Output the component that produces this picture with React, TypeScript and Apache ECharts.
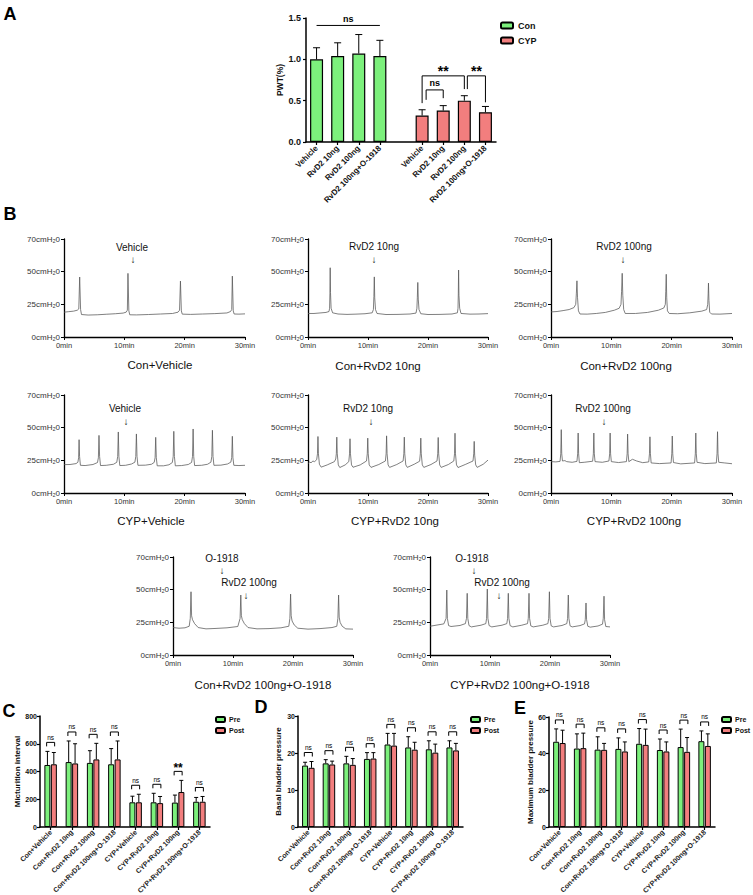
import React, { useEffect, useRef } from 'react';
import * as echarts from 'echarts';

const FONT = '"Liberation Sans", Arial, Helvetica, sans-serif';
const GREEN = '#7CF07C';
const RED = '#F27E7E';

// ---------- Panel A : PWT(%)
const aCategories = ['Vehicle', 'RvD2 10ng', 'RvD2 100ng', 'RvD2 100ng+O-1918', '', 'Vehicle', 'RvD2 10ng', 'RvD2 100ng', 'RvD2 100ng+O-1918'];
const aConMean = [1.0, 1.04, 1.07, 1.04];
const aConErr = [1.14, 1.2, 1.3, 1.23];
const aCypMean = [0.32, 0.38, 0.5, 0.36];
const aCypErr = [0.39, 0.44, 0.56, 0.43];
const aSigFrom = [0, 5, 5, 7];
const aSigTo = [3, 7, 6, 8];
const aSigTop = [1.41, 0.8, 0.63, 0.8];
const aSigLeftEnd = [1.41, 0.47, 0.51, 0.64];
const aSigRightEnd = [1.41, 0.64, 0.53, 0.48];
const aSigText = ['ns', '**', 'ns', '**'];

// ---------- Panels C / D / E
const groupCategories = ['Con+Vehicle', 'Con+RvD2 10ng', 'Con+RvD2 100ng', 'Con+RvD2 100ng+O-1918', 'CYP+Vehicle', 'CYP+RvD2 10ng', 'CYP+RvD2 100ng', 'CYP+RvD2 100ng+O-1918'];
const cPre = [447, 468, 462, 452, 178, 178, 176, 182];
const cPreErr = [545, 620, 550, 565, 222, 243, 230, 213];
const cPost = [452, 458, 487, 487, 178, 172, 252, 182];
const cPostErr = [537, 600, 603, 620, 236, 220, 336, 220];
const cSig = ['ns', 'ns', 'ns', 'ns', 'ns', 'ns', '**', 'ns'];
const dPre = [16.6, 17.2, 17.2, 18.4, 22.3, 21.5, 21.0, 21.5];
const dPreErr = [17.5, 18.2, 19.1, 20.1, 25.3, 24.4, 23.3, 23.3];
const dPost = [16.0, 16.9, 16.8, 18.5, 22.0, 20.9, 20.1, 20.7];
const dPostErr = [17.7, 17.8, 18.5, 20.1, 25.3, 22.9, 22.4, 22.6];
const dSig = ['ns', 'ns', 'ns', 'ns', 'ns', 'ns', 'ns', 'ns'];
const ePre = [46.5, 42.8, 42.2, 42.6, 45.4, 42.0, 43.6, 46.8];
const ePreErr = [53.5, 50.8, 49.2, 48.6, 53.7, 48.0, 53.4, 52.4];
const ePost = [45.8, 43.0, 42.1, 41.2, 44.8, 41.2, 41.0, 44.2];
const ePostErr = [52.8, 51.2, 45.6, 46.4, 53.4, 46.4, 48.8, 50.8];
const eSig = ['ns', 'ns', 'ns', 'ns', 'ns', 'ns', 'ns', 'ns'];

// ---------- Panel B : cystometry traces  [min, pressure on the drawn scale]
const traceTitles = ['Con+Vehicle', 'Con+RvD2 10ng', 'Con+RvD2 100ng', 'CYP+Vehicle', 'CYP+RvD2 10ng', 'CYP+RvD2 100ng', 'Con+RvD2 100ng+O-1918', 'CYP+RvD2 100ng+O-1918'];
const traceYTickLabels = ['0cmH₂0', '25cmH₂0', '50cmH₂0', '70cmH₂0'];
const traceXTickLabels = ['0min', '10min', '20min', '30min'];

const trace1 = [[0,19],[0.8,19.4],[1.6,19.8],[2.2,20.5],[2.45,21.5],[2.6,45.9],[2.75,21],[2.9,17.2],[4,16.8],[5.5,17],[7,17.4],[8.5,17.8],[9.8,18.3],[10.3,19],[10.5,20.5],[10.6,48.7],[10.75,20],[10.9,17],[12,16.9],[14,17.2],[16,17.6],[18,18],[18.9,19],[19.15,20.5],[19.3,42.8],[19.45,20],[19.6,17.5],[21,17.3],[23,17.6],[25,17.9],[27,18.4],[27.6,19.5],[27.8,21],[27.9,46.6],[28.05,20],[28.2,17.6],[29,17.5],[30,17.7]];
const trace2 = [[0,18],[1,18],[2,18.4],[3,18.8],[3.5,19.5],[3.6,22],[3.65,33],[3.7,53],[3.75,34],[3.85,22],[4.1,18.5],[5,17.6],[6.5,17.3],[8,17.5],[9.5,17.8],[10.7,18.5],[10.9,21],[10.98,31],[11.05,46],[11.12,30],[11.25,21],[11.5,18],[13,17.2],[15,17.3],[17,17.6],[18,18.3],[18.15,22],[18.22,30],[18.3,41.75],[18.38,29],[18.5,21],[18.8,17.8],[20,17.2],[22,17.3],[24,17.6],[24.9,18.5],[25,22],[25.05,33],[25.1,51.25],[25.16,32],[25.28,22],[25.5,18],[27,17.5],[28.5,17.6],[30,17.9]];
const trace3 = [[0,19.2],[1,19.5],[2,20.2],[3,21],[3.8,22.5],[4.1,25],[4.2,33],[4.3,43],[4.4,30],[4.55,20],[4.8,17.6],[6,17.5],[7.5,18],[9,18.8],[10.5,20.5],[11.3,22],[11.6,25],[11.7,35],[11.8,48.75],[11.9,32],[12.05,21],[12.3,18],[14,18],[16,18.8],[17.8,20.5],[18.7,22.2],[18.95,25],[19.02,35],[19.1,48],[19.18,30],[19.3,20],[19.6,18],[21,17.8],[23,18.5],[25,19.8],[25.8,21],[25.98,25],[26.05,33],[26.1,41.25],[26.18,28],[26.3,19],[26.6,17.6],[28,17.5],[30,18]];
const trace4 = [[0,21.7],[1,21.8],[2,22.5],[2.3,23.5],[2.42,27],[2.5,40.8],[2.58,28],[2.72,21.2],[3.5,21],[4.8,21.8],[5.55,23.3],[5.7,27],[5.8,44.1],[5.9,28],[6.05,21],[7,21.2],[8.2,22],[8.75,23.5],[8.9,28],[9,46.7],[9.1,28],[9.25,21],[10.2,21.2],[11.2,22.2],[11.75,23.6],[11.9,28],[12,45.2],[12.1,28],[12.25,21.2],[13.5,21.3],[14.5,22],[14.95,23.4],[15.1,27],[15.2,42.6],[15.3,27],[15.45,20.8],[16.5,20.8],[17.4,21.6],[17.95,23.3],[18.1,28],[18.2,47.2],[18.3,28],[18.45,20.8],[19.5,21],[20.6,21.8],[21.15,23.4],[21.3,28],[21.4,49],[21.5,28],[21.65,21],[22.8,21.2],[23.8,22],[24.35,23.6],[24.5,28],[24.6,48],[24.7,28],[24.85,21.2],[26,21.3],[27.1,22.2],[27.65,23.6],[27.8,27],[27.9,43.4],[28,27],[28.15,21.2],[29,21],[30,21.2]];
const trace5 = [[0,22.5],[0.3,23.8],[0.5,23],[0.8,24.5],[1.1,24],[1.45,25.5],[1.58,30],[1.66,43.25],[1.74,30],[1.9,22],[2.2,19.8],[3.2,21.5],[4.4,24],[4.62,26],[4.72,30],[4.8,42.75],[4.88,30],[5.05,21.5],[5.3,19.5],[6.2,21.5],[6.8,24],[6.92,30],[7,41.5],[7.08,30],[7.25,21.5],[7.5,19.7],[8.7,21.5],[9.75,24.5],[9.88,30],[9.96,42],[10.04,30],[10.2,21.5],[10.5,19.6],[11.8,21.8],[12.9,24.5],[13.02,30],[13.1,43.75],[13.18,30],[13.35,21.5],[13.6,19.6],[14.8,21.8],[15.85,24.5],[15.97,30],[16.05,42.75],[16.13,30],[16.3,21.5],[16.55,19.6],[17.7,22],[18.6,24.3],[18.72,30],[18.8,42],[18.88,30],[19.05,21.5],[19.3,19.6],[20.5,21.8],[21.5,24.5],[21.62,30],[21.7,42.5],[21.78,30],[21.95,21.5],[22.2,19.6],[23.4,21.8],[24.3,24.5],[24.42,30],[24.5,45.75],[24.58,30],[24.75,21.5],[25,19.5],[26.3,22],[27.5,24.5],[27.62,30],[27.7,39.5],[27.78,29],[27.95,21.5],[28.2,19.6],[29.2,22],[30,25.2]];
const trace6 = [[0,24],[0.8,23.8],[1.5,24.2],[1.62,30],[1.7,48.5],[1.78,30],[1.9,24.5],[2.3,24.8],[2.6,24],[3.5,23.5],[4.3,24.2],[4.42,30],[4.5,45.9],[4.58,30],[4.7,23.2],[5.5,23.5],[6.9,24.3],[7.02,30],[7.1,45.9],[7.18,30],[7.3,24],[8.5,23.5],[9.6,24.5],[9.72,30],[9.8,45.9],[9.88,30],[10,24],[11.2,23.3],[12.5,24],[12.62,30],[12.7,45.1],[12.78,30],[12.9,24],[13.5,25.8],[14.2,24.5],[15.2,23.2],[16.2,23.8],[16.32,30],[16.4,43],[16.48,30],[16.6,23],[18,22.5],[19.9,23],[20.02,30],[20.1,43.6],[20.18,30],[20.3,23.3],[21.5,22.3],[23.8,23],[23.92,30],[24,45.9],[24.08,30],[24.2,23.5],[25.5,22.5],[27.4,23],[27.52,30],[27.6,46.9],[27.68,30],[27.8,23.5],[28.8,23],[30,22.4]];
const trace7 = [[0,21],[1,20.5],[2,20.8],[2.7,22],[2.88,28],[3,48.4],[3.1,30],[3.25,27],[3.6,24],[4.2,21],[5.5,20],[7,20.3],[9,20.8],[10.8,21.8],[11.18,28],[11.3,45.9],[11.4,30],[11.55,27],[11.9,24],[12.5,21],[14,20],[16,20.2],[18,20.8],[19.3,22],[19.48,28],[19.6,46.6],[19.7,30],[19.85,26],[20.2,23],[20.8,20.5],[22.5,19.8],[24.5,20.2],[26.5,21],[27.3,22],[27.48,28],[27.6,45.9],[27.7,29],[27.85,25],[28.2,22],[28.8,20],[30,19.8]];
const trace8 = [[0,22],[1,22.8],[2.3,23.8],[2.68,28],[2.8,49.7],[2.9,28],[3.1,22.5],[3.5,21.8],[5,22.6],[5.9,24],[6.08,28],[6.2,47.2],[6.3,28],[6.5,22.5],[6.9,21.5],[8.5,22.8],[9.3,24],[9.43,28],[9.55,50.5],[9.65,28],[9.85,22.5],[10.3,21.5],[12,22.8],[12.8,24],[12.93,28],[13.05,47.2],[13.15,28],[13.35,22.5],[13.8,21.5],[15.3,22.8],[16.25,24],[16.38,28],[16.5,47.2],[16.6,28],[16.8,22.3],[17.2,21.5],[18.8,22.8],[19.65,24],[19.78,28],[19.9,48.4],[20,28],[20.2,22.3],[20.6,21.5],[22,22.6],[22.8,24],[22.93,28],[23.05,45.9],[23.15,28],[23.35,22.3],[23.7,21.5],[25,22.5],[25.75,23.8],[25.88,27],[26,39.8],[26.1,27],[26.3,22],[26.7,21.3],[28,22.2],[28.75,23.6],[28.88,28],[29,45],[29.1,27],[29.3,21.8],[30,21.5]];
const traces = [trace1, trace2, trace3, trace4, trace5, trace6, trace7, trace8];

// annotation texts above the traces
const traceNotes = [
  ['Vehicle'], ['RvD2 10ng'], ['RvD2 100ng'],
  ['Vehicle'], ['RvD2 10ng'], ['RvD2 100ng'],
  ['O-1918', 'RvD2 100ng'], ['O-1918', 'RvD2 100ng'],
];

function buildOption() {
  const black = '#000';
  const grids: any[] = [];
  const xAxes: any[] = [];
  const yAxes: any[] = [];
  const series: any[] = [];
  const graphics: any[] = [];

  const txt = (text: string, x: number, y: number, size: number, weight = 'normal', color = '#111') => ({
    type: 'text', x, y, silent: true,
    style: { text, fontSize: size, fontWeight: weight, fontFamily: FONT, fill: color, align: 'center', verticalAlign: 'middle', textAlign: 'center', textVerticalAlign: 'middle' },
  });

  const errSeries = (ai: number, data: number[][], offset: number, cap: number) => ({
    type: 'custom', xAxisIndex: ai, yAxisIndex: ai, z: 5, silent: true,
    data, encode: { x: 0, y: [1, 2] },
    renderItem: (_p: any, api: any) => {
      const x = api.value(0);
      const a = api.coord([x, api.value(1)]);
      const b = api.coord([x, api.value(2)]);
      const cx = a[0] + offset;
      return {
        type: 'group', children: [
          { type: 'line', shape: { x1: cx, y1: a[1], x2: cx, y2: b[1] }, style: { stroke: black, lineWidth: 1 } },
          { type: 'line', shape: { x1: cx - cap, y1: b[1], x2: cx + cap, y2: b[1] }, style: { stroke: black, lineWidth: 1 } },
        ],
      };
    },
  });

  const boldAxisBase = {
    axisLine: { show: true, lineStyle: { color: black, width: 1.5 } },
    axisTick: { show: true, length: 3, lineStyle: { color: black, width: 1.2 } },
    splitLine: { show: false },
  };

  // ---------------- Panel A
  grids.push({ left: 306, top: 18, width: 190, height: 124, outerBoundsMode: 'none' });
  xAxes.push({
    gridIndex: 0, type: 'category', data: aCategories, ...boldAxisBase,
    axisTick: { show: true, length: 3, alignWithLabel: true, interval: (i: number) => i !== 4, lineStyle: { color: black, width: 1.2 } },
    axisLabel: { interval: 0, rotate: 45, fontSize: 8, fontWeight: 'bold', fontFamily: FONT, color: '#111', margin: 5 },
  });
  yAxes.push({
    gridIndex: 0, type: 'value', min: 0, max: 1.5, interval: 0.5, ...boldAxisBase,
    axisLabel: { fontSize: 9, fontWeight: 'bold', fontFamily: FONT, color: '#111', margin: 5, formatter: (v: number) => v.toFixed(1) },
    name: 'PWT(%)', nameLocation: 'middle', nameGap: 19,
    nameTextStyle: { fontSize: 8.5, fontWeight: 'bold', fontFamily: FONT, color: '#111' },
  });
  const blanks = ['-', '-', '-', '-', '-'];
  series.push({
    name: 'Con', type: 'bar', xAxisIndex: 0, yAxisIndex: 0, barWidth: 13, barGap: '-100%',
    data: [...aConMean, ...blanks], itemStyle: { color: GREEN, borderColor: black, borderWidth: 1.2 },
  });
  series.push({
    name: 'CYP', type: 'bar', xAxisIndex: 0, yAxisIndex: 0, barWidth: 13, barGap: '-100%',
    data: [...blanks, ...aCypMean], itemStyle: { color: RED, borderColor: black, borderWidth: 1.2 },
  });
  series.push(errSeries(0, aConMean.map((m, i) => [i, m, aConErr[i]]), 0, 3.5));
  series.push(errSeries(0, aCypMean.map((m, i) => [i + 5, m, aCypErr[i]]), 0, 3.5));
  const aNudge = [0, 0, 4, 3];
  series.push({
    type: 'custom', xAxisIndex: 0, yAxisIndex: 0, z: 6, silent: true,
    data: aSigFrom.map((f, i) => [f, aSigTo[i], aSigTop[i], aSigLeftEnd[i], aSigRightEnd[i]]),
    encode: { x: [0, 1], y: [2, 3, 4] },
    renderItem: (p: any, api: any) => {
      const i = p.dataIndex;
      const l = api.coord([api.value(0), api.value(2)]);
      const r = api.coord([api.value(1), api.value(2)]);
      const yl = api.coord([api.value(0), api.value(3)])[1];
      const yr = api.coord([api.value(1), api.value(4)])[1];
      const lx = l[0] + aNudge[i];
      const rx = r[0];
      const t = aSigText[i];
      const star = t === '**';
      return {
        type: 'group', children: [
          { type: 'polyline', shape: { points: [[lx, yl], [lx, l[1]], [rx, l[1]], [rx, yr]] }, style: { stroke: black, lineWidth: 1, fill: 'none' } },
          {
            type: 'text', x: (lx + rx) / 2, y: star ? l[1] + 2 : l[1] - 2,
            style: { text: t, fontSize: star ? 14 : 9, fontWeight: 'bold', fontFamily: FONT, fill: black, align: 'center', verticalAlign: 'bottom', textAlign: 'center', textVerticalAlign: 'bottom' },
          },
        ],
      };
    },
  });

  // ---------------- Panel B traces
  const boxes = [[64, 239, 181], [308, 239, 180], [551, 239, 181], [64, 395, 181], [308, 395, 180], [551, 395, 181], [173, 557, 180], [430, 557, 180]];
  boxes.forEach((b, k) => {
    const gi = k + 1;
    grids.push({ left: b[0], top: b[1], width: b[2], height: 98, outerBoundsMode: 'none' });
    xAxes.push({
      gridIndex: gi, type: 'value', min: 0, max: 30, interval: 10,
      axisLine: { show: true, lineStyle: { color: black, width: 1.3 } },
      axisTick: { show: true, length: 3, lineStyle: { color: black, width: 1 } },
      splitLine: { show: false },
      axisLabel: { fontSize: 7.5, fontFamily: FONT, color: '#333', margin: 4, formatter: (v: number) => traceXTickLabels[Math.round(v / 10)] },
    });
    yAxes.push({
      gridIndex: gi, type: 'value', min: 0, max: 75, interval: 25,
      axisLine: { show: true, lineStyle: { color: black, width: 1.3 } },
      axisTick: { show: true, length: 3, lineStyle: { color: black, width: 1 } },
      splitLine: { show: false },
      axisLabel: { fontSize: 8, fontFamily: FONT, color: '#333', margin: 4, formatter: (v: number) => traceYTickLabels[Math.round(v / 25)] },
    });
    series.push({
      type: 'line', xAxisIndex: gi, yAxisIndex: gi, data: traces[k], showSymbol: false, symbol: 'none', silent: true,
      lineStyle: { color: '#555', width: 0.75 },
    });
  });

  // titles under the traces
  const titlePos = [[160, 365], [378, 366], [626, 366], [151, 521], [395, 521], [634, 521], [263, 685], [520, 685]];
  traceTitles.forEach((t, k) => graphics.push(txt(t, titlePos[k][0], titlePos[k][1], 11.5)));
  // notes + arrows
  const notePos = [
    [[132, 247, 133, 259]], [[374, 246, 374, 259]], [[624, 246, 623, 259]],
    [[125, 408, 126, 421]], [[368, 408, 371, 421]], [[603, 408, 604, 421]],
    [[222, 558, 222, 570], [249, 582, 246, 595]], [[472, 558, 474, 570], [502, 582, 499, 595]],
  ];
  traceNotes.forEach((notes, k) => notes.forEach((n, j) => {
    const p = notePos[k][j];
    graphics.push(txt(n, p[0], p[1], 10));
    graphics.push(txt('↓', p[2], p[3], 10));
  }));

  // ---------------- Panels C, D, E
  const pans = [
    { box: [40, 716, 170, 111], max: 800, iv: 200, name: 'Micturition interval', gap: 16, pre: cPre, preE: cPreErr, post: cPost, postE: cPostErr, sig: cSig, legendLeft: 215 },
    { box: [298, 716, 165, 111], max: 30, iv: 10, name: 'Basal bladder pressure', gap: 16, pre: dPre, preE: dPreErr, post: dPost, postE: dPostErr, sig: dSig, legendLeft: 470 },
    { box: [549, 717, 166, 110], max: 60, iv: 20, name: 'Maximum bladder pressure', gap: 13, pre: ePre, preE: ePreErr, post: ePost, postE: ePostErr, sig: eSig, legendLeft: 721 },
  ];
  const legends: any[] = [{
    left: 500, top: 21, padding: 0, orient: 'vertical', itemWidth: 12, itemHeight: 6, itemGap: 6, data: ['Con', 'CYP'],
    textStyle: { fontSize: 9, fontWeight: 'bold', fontFamily: FONT, color: '#111' },
  }];
  pans.forEach((P, j) => {
    const ai = 9 + j;
    grids.push({ left: P.box[0], top: P.box[1], width: P.box[2], height: P.box[3], outerBoundsMode: 'none' });
    xAxes.push({
      gridIndex: ai, type: 'category', data: groupCategories, ...boldAxisBase,
      axisTick: { show: true, length: 3, alignWithLabel: true, interval: 0, lineStyle: { color: black, width: 1.2 } },
      axisLabel: { interval: 0, rotate: 45, fontSize: 7, fontWeight: 'bold', fontFamily: FONT, color: '#222', margin: 4 },
    });
    yAxes.push({
      gridIndex: ai, type: 'value', min: 0, max: P.max, interval: P.iv, ...boldAxisBase,
      axisLabel: { fontSize: 7, fontWeight: 'bold', fontFamily: FONT, color: '#111', margin: 3 },
      name: P.name, nameLocation: 'middle', nameGap: P.gap,
      nameTextStyle: { fontSize: 8, fontWeight: 'bold', fontFamily: FONT, color: '#111' },
    });
    series.push({
      name: 'Pre', type: 'bar', xAxisIndex: ai, yAxisIndex: ai, barWidth: 6, barGap: '8%',
      data: P.pre, itemStyle: { color: GREEN, borderColor: black, borderWidth: 1 },
    });
    series.push({
      name: 'Post', type: 'bar', xAxisIndex: ai, yAxisIndex: ai, barWidth: 6, barGap: '8%',
      data: P.post, itemStyle: { color: RED, borderColor: black, borderWidth: 1 },
    });
    series.push(errSeries(ai, P.pre.map((m, i) => [i, m, P.preE[i]]), -3.2, 2));
    series.push(errSeries(ai, P.post.map((m, i) => [i, m, P.postE[i]]), 3.2, 2));
    const tops = P.preE.map((e, i) => Math.max(e, P.postE[i]));
    series.push({
      type: 'custom', xAxisIndex: ai, yAxisIndex: ai, z: 6, silent: true,
      data: tops.map((t, i) => [i, t]), encode: { x: 0, y: 1 },
      renderItem: (p: any, api: any) => {
        const c = api.coord([api.value(0), api.value(1)]);
        const t = P.sig[p.dataIndex];
        const star = t === '**';
        const y = c[1] - 9;
        const l = c[0] - 4, r = c[0] + 4;
        return {
          type: 'group', children: [
            { type: 'polyline', shape: { points: [[l, y + 4], [l, y], [r, y], [r, y + 4]] }, style: { stroke: black, lineWidth: 1, fill: 'none' } },
            {
              type: 'text', x: c[0], y: star ? y + 3 : y - 1.5,
              style: { text: t, fontSize: star ? 12 : 6.5, fontWeight: star ? 'bold' : 'normal', fontFamily: FONT, fill: black, align: 'center', verticalAlign: 'bottom', textAlign: 'center', textVerticalAlign: 'bottom' },
            },
          ],
        };
      },
    });
    legends.push({
      left: P.legendLeft, top: 716, padding: 0, orient: 'vertical', itemWidth: 9, itemHeight: 5, itemGap: 4, itemSymbolGap: 4, data: ['Pre', 'Post'],
      textStyle: { fontSize: 7, fontWeight: 'bold', fontFamily: FONT, color: '#111', padding: [0, 0, 0, -1] },
    });
  });

  // panel letters
  graphics.push(txt('A', 10, 14, 18, 'bold', '#000'));
  graphics.push(txt('B', 10, 214, 18, 'bold', '#000'));
  graphics.push(txt('C', 9, 711, 18, 'bold', '#000'));
  graphics.push(txt('D', 261, 707, 18, 'bold', '#000'));
  graphics.push(txt('E', 520, 708, 18, 'bold', '#000'));

  return {
    animation: false,
    backgroundColor: '#fff',
    textStyle: { fontFamily: FONT },
    grid: grids,
    xAxis: xAxes,
    yAxis: yAxes,
    legend: legends,
    series,
    graphic: graphics,
  };
}

export default function App() {
  const ref = useRef<HTMLDivElement>(null);
  useEffect(() => {
    if (!ref.current) return;
    const chart = echarts.init(ref.current, null, { renderer: 'svg' });
    chart.setOption(buildOption() as any);
    return () => chart.dispose();
  }, []);
  return <div ref={ref} style={{ position: 'absolute', left: 0, top: 0, width: 753, height: 895, background: '#fff' }} />;
}
